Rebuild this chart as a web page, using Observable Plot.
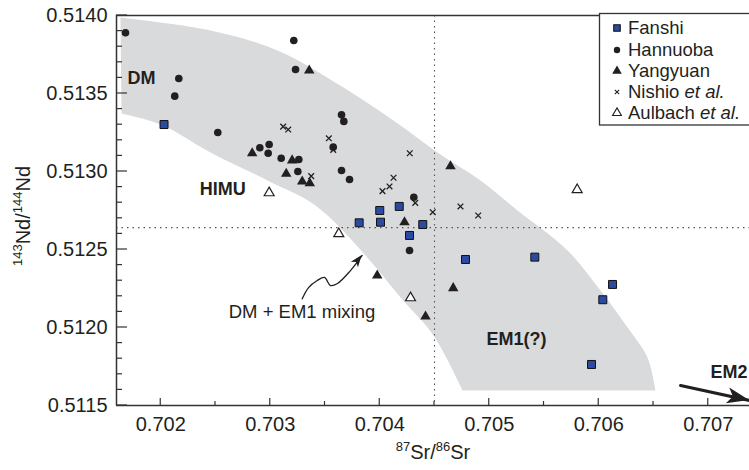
<!DOCTYPE html>
<html><head><meta charset="utf-8">
<script src="https://cdn.jsdelivr.net/npm/d3@7"></script>
<script src="https://cdn.jsdelivr.net/npm/@observablehq/plot@0.6"></script>
<style>html,body{margin:0;padding:0;background:#fff;overflow:hidden;} svg{display:block;}</style>
</head><body><div id="chart"></div>
<script>
// ---- data (87Sr/86Sr, 143Nd/144Nd) ----
const fanshiSr = [0.70203, 0.70400, 0.704178, 0.703812, 0.704007, 0.704393, 0.704272, 0.704783, 0.705416, 0.706126, 0.706037, 0.705934];
const fanshiNd = [0.513301, 0.51275, 0.512776, 0.512671, 0.512675, 0.51266, 0.51259, 0.512436, 0.512451, 0.512276, 0.512178, 0.511763];
const hannuobaSr = [0.701678, 0.703215, 0.703231, 0.702165, 0.702128, 0.702521, 0.703651, 0.703672, 0.702905, 0.70299, 0.702981, 0.7031, 0.703261, 0.703252, 0.703575, 0.703651, 0.703724, 0.704311, 0.704272];
const hannuobaNd = [0.513889, 0.51384, 0.513654, 0.513596, 0.513483, 0.51325, 0.513363, 0.513321, 0.513152, 0.513173, 0.513117, 0.513085, 0.513077, 0.513, 0.513156, 0.513006, 0.512949, 0.512835, 0.512494];
const yangyuanSr = [0.703356, 0.702835, 0.7032, 0.703146, 0.703292, 0.703361, 0.704646, 0.704226, 0.703977, 0.704418, 0.704671];
const yangyuanNd = [0.513647, 0.513117, 0.513071, 0.512985, 0.512936, 0.512925, 0.513034, 0.512675, 0.512333, 0.51207, 0.512252];
const nishioSr = [0.703118, 0.703164, 0.703535, 0.703575, 0.703374, 0.704274, 0.704126, 0.704089, 0.704025, 0.704324, 0.704737, 0.704484, 0.704899];
const nishioNd = [0.513288, 0.513269, 0.513213, 0.513139, 0.51297, 0.513117, 0.51296, 0.512904, 0.512874, 0.512799, 0.512776, 0.512739, 0.512718];
const aulbachSr = [0.70299, 0.705803, 0.703626, 0.704281];
const aulbachNd = [0.512863, 0.512883, 0.512601, 0.51219];

// shaded DM–EM1 mixing field outline (corner points repeated to keep them sharp)
const bandSr = [0.701632, 0.702454, 0.703066, 0.703669, 0.70419, 0.704527, 0.70492, 0.705258, 0.705715, 0.706016, 0.706263, 0.706445, 0.706518, 0.706518, 0.704756, 0.704756, 0.704491, 0.70419, 0.70387, 0.703413, 0.702993, 0.702454, 0.702, 0.701642];
const bandNd = [0.513987, 0.513904, 0.513776, 0.513538, 0.513295, 0.513122, 0.512942, 0.51275, 0.512494, 0.512237, 0.512, 0.511808, 0.511596, 0.511596, 0.511596, 0.511596, 0.511949, 0.512192, 0.512462, 0.512782, 0.512936, 0.513122, 0.513301, 0.513372];

// reference values (bulk earth)
const bulkSr = [0.7045];
const churNd = [0.51264];

// annotation labels
const labelText = ["DM", "HIMU", "EM1(?)", "EM2"];
const labelSr = [0.701696, 0.702357, 0.704975, 0.707021];
const labelNd = [0.513596, 0.512888, 0.511926, 0.511715];
const mixText = ["DM + EM1 mixing"];
const mixSr = [0.702621];
const mixNd = [0.5121];

// squiggly pointer and EM2 arrow
const squigSr = [0.703292, 0.70335, 0.703429, 0.703495, 0.70355, 0.703614, 0.703733, 0.70384];
const squigNd = [0.512184, 0.512256, 0.512301, 0.512321, 0.512269, 0.512282, 0.512365, 0.512462];
const em2Sr = [0.706747, 0.707377];
const em2Nd = [0.511628, 0.511532];

// axes
const xDomain = [0.7015959, 0.7073767];
const yDomain = [0.5115, 0.5140];
const xMajor = [0.702, 0.703, 0.704, 0.705, 0.706, 0.707];
const xMinor = [0.7025, 0.7035, 0.7045, 0.7055, 0.7065];
const yMajor = [0.5115, 0.5120, 0.5125, 0.5130, 0.5135, 0.5140];
const yMinor = d3.range(0, 26).map(i => 0.5115 + i * 0.0001).filter((v, i) => i % 5 !== 0);

const legendNames = ["Fanshi", "Hannuoba", "Yangyuan", "Nishio", "Aulbach"];

// ---- build tables ----
const zip = (xs, ys) => xs.map((x, i) => ({x, y: ys[i]}));
const fanshi = zip(fanshiSr, fanshiNd);
const hannuoba = zip(hannuobaSr, hannuobaNd);
const yangyuan = zip(yangyuanSr, yangyuanNd);
const nishio = zip(nishioSr, nishioNd);
const aulbach = zip(aulbachSr, aulbachNd);
const band = zip(bandSr, bandNd);
const squig = zip(squigSr, squigNd);
const em2 = zip(em2Sr, em2Nd);
const labels = labelText.map((t, i) => ({t, x: labelSr[i], y: labelNd[i]}));
const mix = mixText.map((t, i) => ({t, x: mixSr[i], y: mixNd[i]}));

const ink = "#231f20";
const FONT = "'Liberation Sans', Arial, Helvetica, sans-serif";

const chart = Plot.plot({
  width: 749, height: 470,
  marginLeft: 116, marginRight: 0, marginTop: 15, marginBottom: 65,
  style: {fontFamily: FONT, fontSize: "20px", color: ink, background: "white"},
  x: {domain: xDomain},
  y: {domain: yDomain},
  marks: [
    Plot.line(band, {x: "x", y: "y", fill: "#d9dadc", stroke: "none", curve: "catmull-rom"}),
    Plot.ruleX(bulkSr, {stroke: "#555", strokeWidth: 1.1, strokeDasharray: "1.5,4"}),
    Plot.ruleY(churNd, {stroke: "#555", strokeWidth: 1.1, strokeDasharray: "1.5,4"}),
    // axes (labels only; ticks drawn inward below)
    Plot.axisY({ticks: yMajor, tickSize: 0, tickPadding: 9, tickFormat: d3.format(".4f"), fontSize: 20, label: null}),
    Plot.axisX({ticks: xMajor, tickSize: 0, tickPadding: 11, tickFormat: d3.format(".3f"), fontSize: 20, label: null}),
    Plot.ruleX([xDomain[0]], {stroke: "#333", strokeWidth: 1.5}),
    Plot.ruleY([yDomain[0], yDomain[1]], {stroke: "#333", strokeWidth: 1.5}),
    // annotations
    Plot.line(squig, {x: "x", y: "y", stroke: ink, strokeWidth: 1.3, curve: "catmull-rom"}),
    Plot.line(em2, {x: "x", y: "y", stroke: ink, strokeWidth: 3}),
    Plot.text(labels, {x: "x", y: "y", text: "t", textAnchor: "start", lineAnchor: "middle", fontWeight: "bold", fontSize: 18, fill: ink}),
    Plot.text(mix, {x: "x", y: "y", text: "t", textAnchor: "start", lineAnchor: "middle", fontSize: 18.5, fill: ink}),
    // data
    Plot.dot(aulbach, {x: "x", y: "y", symbol: "triangle", r: 3.7, fill: "white", stroke: ink, strokeWidth: 1.2}),
    Plot.dot(nishio, {x: "x", y: "y", symbol: "times", r: 2.7, stroke: ink, strokeWidth: 1.3}),
    Plot.dot(hannuoba, {x: "x", y: "y", symbol: "circle", r: 3.8, fill: ink, stroke: "none"}),
    Plot.dot(yangyuan, {x: "x", y: "y", symbol: "triangle", r: 3.9, fill: ink, stroke: "none"}),
    Plot.dot(fanshi, {x: "x", y: "y", symbol: "square", r: 4.5, fill: "#2b4ba3", stroke: "#111", strokeWidth: 1})
  ]
});
document.getElementById("chart").appendChild(chart);

// ---- extras drawn through Plot's scales ----
const svg = d3.select(chart);
const sx = chart.scale("x"), sy = chart.scale("y");
const X0 = sx.apply(xDomain[0]), Y0 = sy.apply(yDomain[0]);

// inward ticks
const tg = svg.append("g").attr("stroke", "#333").attr("stroke-width", 1.2);
yMinor.forEach(v => tg.append("line").attr("x1", X0).attr("x2", X0 + 6).attr("y1", sy.apply(v)).attr("y2", sy.apply(v)));
yMajor.forEach(v => tg.append("line").attr("x1", X0).attr("x2", X0 + 11).attr("y1", sy.apply(v)).attr("y2", sy.apply(v)));
xMinor.forEach(v => tg.append("line").attr("y1", Y0).attr("y2", Y0 - 4).attr("x1", sx.apply(v)).attr("x2", sx.apply(v)));
xMajor.forEach(v => tg.append("line").attr("y1", Y0).attr("y2", Y0 - 7).attr("x1", sx.apply(v)).attr("x2", sx.apply(v)));

function arrowHead(pts, len, half) {
  const a = pts[pts.length - 2], b = pts[pts.length - 1];
  const x0 = sx.apply(a.x), y0 = sy.apply(a.y), x1 = sx.apply(b.x), y1 = sy.apply(b.y);
  const d = Math.hypot(x1 - x0, y1 - y0), ux = (x1 - x0) / d, uy = (y1 - y0) / d;
  const bx = x1 - ux * len, by = y1 - uy * len;
  svg.append("path")
    .attr("d", `M${x1},${y1}L${bx - uy * half},${by + ux * half}L${bx + ux * len * 0.25},${by + uy * len * 0.25}L${bx + uy * half},${by - ux * half}Z`)
    .attr("fill", ink);
}
arrowHead(squig, 12, 4.5);
arrowHead(em2, 22, 8);

// axis titles with superscripts
function sup(sel, parts) {
  parts.forEach(([s, isSup], i) => {
    const t = sel.append("tspan").text(s);
    if (isSup) t.attr("font-size", 13).attr("dy", -8);
    else if (i > 0 && parts[i - 1][1]) t.attr("dy", 8);
  });
}
const xt = svg.append("text").attr("x", 433).attr("y", 459).attr("text-anchor", "middle")
  .attr("font-family", FONT).attr("font-size", 20).attr("fill", ink);
sup(xt, [["87", true], ["Sr/", false], ["86", true], ["Sr", false]]);
const yt = svg.append("text").attr("transform", "translate(30,216) rotate(-90)").attr("text-anchor", "middle")
  .attr("font-family", FONT).attr("font-size", 20).attr("fill", ink);
sup(yt, [["143", true], ["Nd/", false], ["144", true], ["Nd", false]]);

// legend
const lg = svg.append("g").attr("font-family", FONT).attr("font-size", 18.5).attr("fill", ink).attr("text-anchor", "start");
lg.append("rect").attr("x", 599.5).attr("y", 13.5).attr("width", 170).attr("height", 111.5)
  .attr("fill", "white").attr("stroke", "#333").attr("stroke-width", 1.3);
const rowY = [28, 50, 71, 92, 113];
const sym = [
  {type: d3.symbolSquare, size: 42, fill: "#2b4ba3", stroke: "#111"},
  {type: d3.symbolCircle, size: 32, fill: ink, stroke: "none"},
  {type: d3.symbolTriangle, size: 40, fill: ink, stroke: "none"},
  {type: d3.symbolTimes, size: 14, fill: "none", stroke: ink},
  {type: d3.symbolTriangle, size: 34, fill: "white", stroke: ink}
];
legendNames.forEach((name, i) => {
  const s = sym[i];
  lg.append("path").attr("d", d3.symbol(s.type, s.size)()).attr("transform", `translate(617,${rowY[i]})`)
    .attr("fill", s.fill).attr("stroke", s.stroke).attr("stroke-width", 1.1);
  const t = lg.append("text").attr("x", 628).attr("y", rowY[i]).attr("dy", "0.35em").attr("text-anchor", "start");
  t.append("tspan").text(name);
  if (i >= 3) { t.append("tspan").text(" "); t.append("tspan").attr("font-style", "italic").text("et al."); }
});
</script>
</body></html>
